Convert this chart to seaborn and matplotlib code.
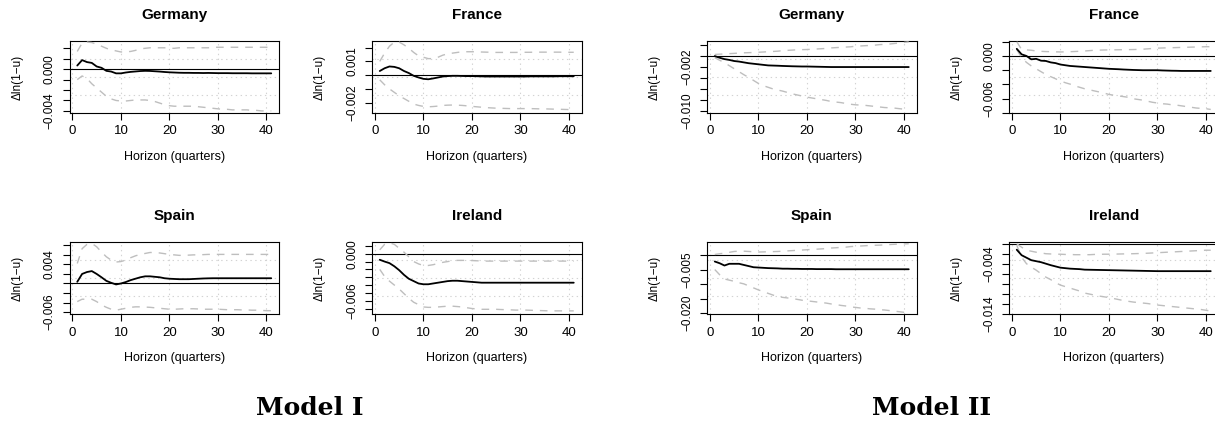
import numpy as np
import pandas as pd
import matplotlib
matplotlib.use("Agg")
import matplotlib.pyplot as plt
import seaborn as sns

# ---------------- data (values in units of 1e-4) ----------------
UNIT = 1e-4
HORIZON = list(range(1, 42))
XTICKS = [0, 10, 20, 30, 40]

# Model I
GE1_MEAN = [3.5, 8.7, 6.8, 6.0, 2.6, 1.3, -1.6, -2.3, -4.0, -4.0, -3.2, -2.6, -2.2, -1.8, -1.6, -1.7, -2.0, -2.3, -2.7, -3.0,
            -3.2, -3.4, -3.5, -3.5, -3.6, -3.6, -3.7, -3.6, -3.7, -3.8, -3.8, -3.8, -3.9, -3.9, -3.9, -3.9, -4.0, -4.0, -4.0, -4.0, -4.0]
GE1_UP = [17, 25, 26, 25.5, 24, 22, 20, 18.5, 17.5, 16.5, 16.5, 17, 18, 19.5, 20, 20.5, 20.5, 20.5, 20.5, 20,
          20, 20.5, 20.5, 20.5, 20.5, 20.5, 20.5, 20.5, 21, 21, 21, 21, 21, 21, 21, 21, 21, 21, 21, 21, 21]
GE1_LOW = [-10, -6.5, -9, -14, -18, -22, -26, -28.5, -30, -30.5, -30.5, -30, -29.5, -29.5, -29.5, -30, -31, -32.5, -34, -35,
           -35.5, -35.5, -35.5, -35.5, -35.5, -36, -36.5, -37, -37.5, -38, -38.5, -38.5, -39, -39, -39, -39, -39.5, -39.5, -40, -40, -40]

FR1_MEAN = [3, 5, 6.3, 6, 5, 3, 1.5, -0.5, -1.7, -2.7, -3, -2.4, -1.7, -1.0, -0.7, -0.5, -0.5, -0.6, -0.7, -0.7,
            -0.8, -0.9, -1.0, -1.0, -1.0, -1.0, -1.0, -1.0, -1.0, -1.0, -1.0, -0.9, -0.9, -0.9, -0.9, -0.9, -0.9, -0.8, -0.8, -0.8, -0.8]
FR1_UP = [10, 16, 21, 24, 24, 22, 19.5, 16.5, 14, 13, 12, 12, 13, 14.5, 15.5, 16, 16.5, 17, 17, 17,
          17, 16.8, 16.7, 16.6, 16.5, 16.5, 16.5, 16.5, 16.5, 16.6, 16.6, 16.6, 16.7, 16.7, 16.7, 16.7, 16.7, 16.7, 16.6, 16.6, 16.6]
FR1_LOW = [-3.4, -7, -10, -12.5, -15, -17, -19, -21, -22, -22.7, -23, -22.8, -22.5, -22, -21.8, -21.7, -21.8, -22, -22.3, -22.7,
           -23, -23.3, -23.6, -23.8, -24, -24.1, -24.2, -24.3, -24.3, -24.3, -24.3, -24.3, -24.4, -24.5, -24.5, -24.6, -24.7, -24.8, -24.9, -25, -25]

ES1_MEAN = [3.5, 20, 24, 26, 20, 13, 5.5, 1.4, -2, 0, 3, 7, 10, 13, 15, 15, 14, 13, 11, 10,
            9.5, 9, 9, 9, 9.5, 10, 10.5, 10.8, 11, 11, 11, 11, 11, 11, 11, 11, 11, 11, 11, 11, 11]
ES1_UP = [42, 73, 82, 84, 77, 66, 56, 49, 45, 46, 49, 54, 58, 61, 63, 65, 65, 64, 62.5, 61,
          60, 59, 59, 59.5, 60, 60, 60.5, 61, 61, 61, 61, 61, 61, 61, 61, 61, 61, 61, 61, 61, 61]
ES1_LOW = [-38, -33, -33, -33, -38, -45, -50, -54, -56, -54, -52, -50, -49, -49, -49.5, -50, -51, -52, -53, -54,
           -54, -53.5, -53, -53, -53, -53.5, -54, -54, -54, -54, -54.5, -55, -55, -55, -55.5, -55.5, -56, -56, -56.5, -57, -57]

IE1_MEAN = [-7.7, -10, -12, -16, -21, -27, -32, -35, -38, -39, -39, -38, -37, -36, -35, -34.5, -34.5, -35, -35.5, -36,
            -36.5, -37, -37, -37, -37, -37, -37, -37, -37, -37, -37, -37, -37, -37, -37, -37, -37, -37, -37, -37, -37]
IE1_UP = [5, 12, 14, 12, 7, 2, -4, -10, -13, -15, -15, -14, -12.5, -11, -10, -9, -8.5, -8.5, -8.5, -8.7,
          -9, -9.2, -9.4, -9.4, -9.4, -9.4, -9.4, -9.4, -9.4, -9.4, -9.4, -9.4, -9.4, -9.4, -9.4, -9.4, -9.4, -9.4, -9.4, -9.4, -9.4]
IE1_LOW = [-20, -29, -35, -40, -45, -51, -57, -62, -65, -68, -68.5, -68.5, -68, -67.5, -67, -67, -67.5, -68, -69, -70,
           -70.5, -71, -71, -71, -71, -71.3, -71.5, -71.7, -72, -72, -72, -72.2, -72.4, -72.6, -72.8, -73, -73, -73, -73, -73, -73]

# Model II
GE2_MEAN = [0, -3, -5.5, -7, -9, -10, -11.5, -13, -14, -15, -16, -17, -17.3, -17.6, -18, -18.3, -18.6, -18.8, -19, -19,
            -19.2, -19.4, -19.6, -19.8, -20, -20, -20, -20, -20, -20, -20, -20, -20, -20, -20, -20, -20, -20, -20, -20, -20]
GE2_UP = [3, 3.5, 4, 4.5, 5, 5.5, 6, 6.3, 6.6, 7, 7.5, 8, 8.5, 9, 10, 10.5, 11, 11.5, 11.8, 12,
          12.5, 13, 13.5, 14, 15, 15.5, 16, 16.5, 17, 18, 18.5, 19, 19.5, 20, 21, 21.5, 22, 23, 24, 25, 26]
GE2_LOW = [-3, -7.5, -12, -17.5, -23, -28.5, -34, -39, -44.5, -50, -54, -57, -60, -62, -64, -66.5, -69, -71, -73, -75,
           -76.5, -78, -79.5, -81, -83, -84, -85, -86.5, -88, -89, -89.5, -90, -91, -92, -93, -94, -94.5, -95, -96, -97, -98]

FR2_MEAN = [10, 2.3, 0, -4.7, -4, -6.6, -7, -9, -10, -12, -13, -14, -14.5, -15, -15.5, -16, -16.5, -17, -17.5, -18,
            -18.3, -18.6, -19, -19.3, -19.6, -19.8, -20, -20, -20, -20, -20.3, -20.5, -20.7, -20.8, -21, -21, -21, -21, -21, -21, -21]
FR2_UP = [20, 9, 8.5, 8, 7, 6.5, 6.2, 6, 5.8, 5.6, 5.8, 6, 6.3, 6.6, 7, 7.5, 8, 8.2, 8.4, 8.5,
          8.6, 8.7, 8.8, 8.9, 9, 9.2, 9.5, 10, 10.5, 11, 11.2, 11.4, 11.6, 11.8, 12, 12.2, 12.4, 12.6, 12.8, 13, 13]
FR2_LOW = [9, -2.3, -9, -14, -18, -22, -26, -29, -32, -35, -37.5, -39.5, -42, -44, -46, -47.5, -49, -50.5, -52, -54,
           -55, -56, -57, -58, -60, -61, -62, -63.5, -65, -66, -67, -67.5, -68.5, -69, -70, -71, -72, -73, -73.5, -74, -75]

ES2_MEAN = [-21, -27, -35, -29, -29, -29, -33, -37, -41, -42, -43, -44, -44.5, -45, -46, -46, -46.5, -46.5, -47, -47,
            -47, -47.5, -47.5, -47.5, -47.5, -48, -48, -48, -48, -48, -48, -48, -48, -48, -48, -48, -48, -48, -48, -48, -48]
ES2_UP = [3.5, 6, 8, 11, 14, 15, 15, 14, 13, 12, 12.5, 13, 13.5, 14, 15, 16, 17, 18, 19, 20,
          21, 22, 23, 24, 26, 27, 28, 29, 31, 32, 33, 34, 35, 35.5, 36, 37, 38, 39, 40, 40.5, 41]
ES2_LOW = [-49, -67, -82, -86, -90, -95, -99, -106, -113, -120, -126, -132, -138, -143, -146, -148, -150, -153, -156, -158,
           -160, -162, -164, -166, -169, -171, -174, -176, -179, -181, -183, -184, -186, -187, -189, -190, -192, -194, -196, -198, -199]

IE2_MEAN = [-12, -23, -28, -33, -35, -37, -40, -43, -45.5, -48, -49, -50, -50.5, -51, -52, -52.2, -52.4, -52.6, -52.8, -53,
            -53.2, -53.4, -53.6, -53.8, -54, -54.2, -54.4, -54.6, -54.8, -55, -55, -55, -55, -55, -55, -55, -55, -55, -55, -55, -55]
IE2_UP = [0, -7, -13, -15, -17, -18.5, -20, -20.5, -21, -21, -21.5, -21.5, -22, -22, -22, -22, -21.5, -21.3, -21, -21,
          -20.8, -20.6, -20.4, -20.2, -20, -19.7, -19.4, -19, -18.5, -18, -17.5, -17, -16.5, -16, -15.5, -15, -14.5, -14, -13.5, -13, -13]
IE2_LOW = [-3, -27, -40, -47, -53, -60, -67, -72, -78, -83, -86, -89, -92, -95, -99, -101, -103, -105, -106.5, -108,
           -110, -112, -114, -115.5, -117, -118, -119, -120, -121.5, -123, -124, -125, -126, -127, -128, -129, -130, -131, -132, -133.5, -135]

# y axis ranges, tick positions and which ticks carry a label
GE1_YLIM = (-0.0042, 0.0027);   GE1_YTICKS = [0.002, 0.001, 0.0, -0.001, -0.002, -0.003, -0.004]; GE1_YLAB = [0.0, -0.004]
FR1_YLIM = (-0.00275, 0.00248); FR1_YTICKS = [0.002, 0.001, 0.0, -0.001, -0.002];                 FR1_YLAB = [0.001, -0.002]
ES1_YLIM = (-0.0064, 0.0087);   ES1_YTICKS = [0.008, 0.006, 0.004, 0.002, 0.0, -0.002, -0.004, -0.006]; ES1_YLAB = [0.004, -0.006]
IE1_YLIM = (-0.0077, 0.0015);   IE1_YTICKS = [0.001, 0.0, -0.001, -0.002, -0.003, -0.004, -0.005, -0.006, -0.007]; IE1_YLAB = [0.0, -0.006]
GE2_YLIM = (-0.0104, 0.00276);  GE2_YTICKS = [0.002, 0.0, -0.002, -0.004, -0.006, -0.008, -0.010]; GE2_YLAB = [-0.002, -0.010]
FR2_YLIM = (-0.0080, 0.0021);   FR2_YTICKS = [0.002, 0.0, -0.002, -0.004, -0.006, -0.008];        FR2_YLAB = [0.0, -0.006]
ES2_YLIM = (-0.0204, 0.0047);   ES2_YTICKS = [0.0, -0.005, -0.010, -0.015, -0.020];               ES2_YLAB = [-0.005, -0.020]
IE2_YLIM = (-0.0141, 0.00035);  IE2_YTICKS = [0.0, -0.002, -0.004, -0.006, -0.008, -0.010, -0.012, -0.014]; IE2_YLAB = [-0.004, -0.014]

TITLES = ["Germany", "France", "Spain", "Ireland", "Germany", "France", "Spain", "Ireland"]
MODEL_LABELS = ["Model I", "Model II"]

# ---------------- style ----------------
sns.set_theme(style="white")
plt.rcParams['font.family'] = ['Liberation Sans', 'DejaVu Sans']
plt.rcParams['lines.scale_dashes'] = False
for k in ['text.color', 'axes.labelcolor', 'xtick.color', 'ytick.color', 'axes.edgecolor']:
    plt.rcParams[k] = 'black'

W, H = 1215, 424
fig = plt.figure(figsize=(W / 100, H / 100), dpi=100)

PANELS = [
    (GE1_MEAN, GE1_LOW, GE1_UP, GE1_YLIM, GE1_YTICKS, GE1_YLAB),
    (FR1_MEAN, FR1_LOW, FR1_UP, FR1_YLIM, FR1_YTICKS, FR1_YLAB),
    (ES1_MEAN, ES1_LOW, ES1_UP, ES1_YLIM, ES1_YTICKS, ES1_YLAB),
    (IE1_MEAN, IE1_LOW, IE1_UP, IE1_YLIM, IE1_YTICKS, IE1_YLAB),
    (GE2_MEAN, GE2_LOW, GE2_UP, GE2_YLIM, GE2_YTICKS, GE2_YLAB),
    (FR2_MEAN, FR2_LOW, FR2_UP, FR2_YLIM, FR2_YTICKS, FR2_YLAB),
    (ES2_MEAN, ES2_LOW, ES2_UP, ES2_YLIM, ES2_YTICKS, ES2_YLAB),
    (IE2_MEAN, IE2_LOW, IE2_UP, IE2_YLIM, IE2_YTICKS, IE2_YLAB),
]
# panel box positions in pixels (left, top)
POS = [(69.5, 41), (372, 41), (69.5, 242), (372, 242),
       (707, 41), (1009, 41), (707, 242), (1009, 242)]
BW, BH = 209.5, 72

GRID_KW = dict(color='#D3D3D3', lw=0.8, ls=(0, (1, 2.5)), zorder=1)
BAND_COLOR = '#BEBEBE'


def fmt(v):
    s = f"{v:.3f}"
    if s.startswith('-'):
        s = '\u2212' + s[1:]
    if s == '\u22120.000':
        s = '0.000'
    return s


for (mean, low, up, ylim, yticks, ylab), (left, top), title in zip(PANELS, POS, TITLES):
    ax = fig.add_axes([left / W, (H - top - BH) / H, BW / W, BH / H])
    df = pd.DataFrame({
        'h': HORIZON,
        'mean': np.array(mean) * UNIT,
        'low': np.array(low) * UNIT,
        'up': np.array(up) * UNIT,
    })
    ax.set_xlim(-0.6, 42.6)
    ax.set_ylim(*ylim)
    for xv in XTICKS:
        ax.axvline(xv, **GRID_KW)
    for f in (0.25, 0.5, 0.75):
        ax.axhline(ylim[0] + f * (ylim[1] - ylim[0]), **GRID_KW)
    ax.axhline(0, color='black', lw=0.8, zorder=2)
    sns.lineplot(data=df, x='h', y='up', ax=ax, color=BAND_COLOR, lw=1.0,
                 linestyle=(0, (5.5, 5)), zorder=3)
    sns.lineplot(data=df, x='h', y='low', ax=ax, color=BAND_COLOR, lw=1.0,
                 linestyle=(0, (5.5, 5)), zorder=3)
    sns.lineplot(data=df, x='h', y='mean', ax=ax, color='black', lw=1.3, zorder=4)

    ax.set_xticks(XTICKS)
    ax.set_xticklabels([str(t) for t in XTICKS])
    ax.set_yticks(yticks)
    ax.set_yticklabels([fmt(t) if any(np.isclose(t, yl) for yl in ylab) else '' for t in yticks],
                       rotation=90, va='center')
    ax.tick_params(axis='both', direction='out', length=5, width=0.8, color='black',
                   left=True, bottom=True)
    ax.tick_params(axis='x', pad=4, labelsize=9.5)
    ax.tick_params(axis='y', pad=5, labelsize=8.5)
    for sp in ax.spines.values():
        sp.set_visible(True)
        sp.set_color('black')
        sp.set_linewidth(0.8)

    ax.set_xlabel("Horizon (quarters)", fontsize=9)
    ax.xaxis.set_label_coords(0.5, -44 / BH)
    ax.xaxis.label.set_va('center')
    ax.set_ylabel("\u0394ln(1\u2212u)", fontsize=8.5)
    ax.yaxis.set_label_coords(-52 / BW, 0.5)
    ax.yaxis.label.set_va('center')
    ax.set_title(title, fontsize=11, fontweight='bold', y=1 + 26 / BH, va='center', pad=0)

for label, xc in zip(MODEL_LABELS, (310, 932)):
    fig.text(xc / W, 1 - 408 / H, label, ha='center', va='center',
             fontsize=18, fontweight='bold', family='DejaVu Serif')

fig.savefig('out.png', dpi=100)
